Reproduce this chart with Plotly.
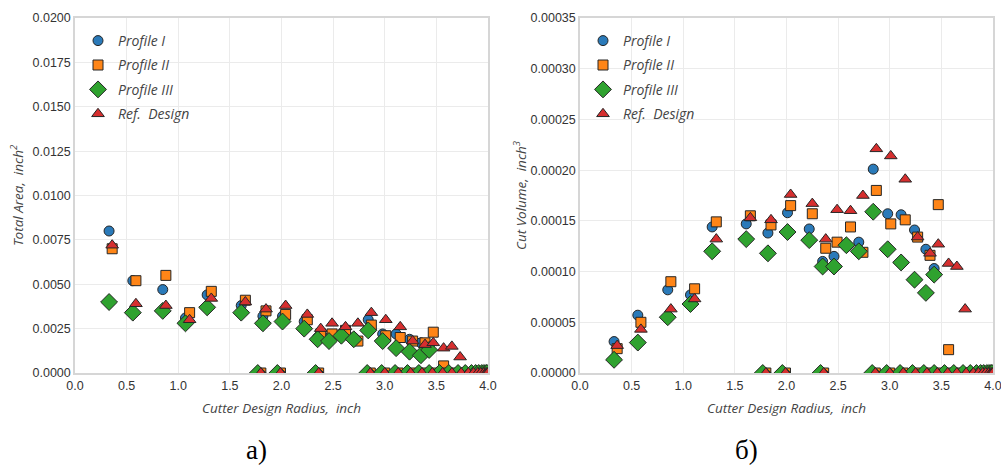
import plotly.graph_objects as go

# ---- data ----
x_p1 = [0.33, 0.56, 0.85, 1.07, 1.28, 1.61, 1.82, 2.01, 2.22, 2.35, 2.46, 2.58, 2.70, 2.84, 2.98, 3.11, 3.24, 3.35, 3.43]
x_p3 = [0.33, 0.56, 0.85, 1.07, 1.28, 1.61, 1.82, 2.01, 2.22, 2.35, 2.46, 2.58, 2.70, 2.84, 2.98, 3.11, 3.24, 3.35, 3.43]
x_p2 = [0.36, 0.59, 0.88, 1.11, 1.32, 1.65, 1.85, 2.04, 2.25, 2.38, 2.49, 2.62, 2.74, 2.87, 3.01, 3.15, 3.27, 3.39, 3.47, 3.57]
x_ref = [0.36, 0.59, 0.88, 1.11, 1.32, 1.65, 1.85, 2.04, 2.25, 2.38, 2.49, 2.62, 2.74, 2.87, 3.01, 3.15, 3.27, 3.39, 3.47, 3.57, 3.65, 3.73]

area_p1 = [0.0080, 0.0052, 0.0047, 0.0031, 0.0044, 0.0038, 0.0032, 0.0032, 0.0029, 0.0020, 0.0020, 0.0022, 0.0020, 0.0030, 0.0022, 0.0022, 0.0019, 0.0017, 0.0015]
area_p2 = [0.0070, 0.0052, 0.0055, 0.0034, 0.0046, 0.0041, 0.0035, 0.0033, 0.0030, 0.0022, 0.0022, 0.0024, 0.0018, 0.0027, 0.0021, 0.0020, 0.0018, 0.0017, 0.0023, 0.0004]
area_p3 = [0.0040, 0.0034, 0.0035, 0.0028, 0.0037, 0.0034, 0.0028, 0.0029, 0.0025, 0.0019, 0.0018, 0.0021, 0.0019, 0.0024, 0.0018, 0.0014, 0.0012, 0.0010, 0.0013]
area_ref = [0.0072, 0.0039, 0.0038, 0.0030, 0.0042, 0.0040, 0.0036, 0.0038, 0.0033, 0.0025, 0.0028, 0.0026, 0.0028, 0.0034, 0.0030, 0.0026, 0.0018, 0.0016, 0.0017, 0.0014, 0.0015, 0.0009]

vol_p1 = [3.1e-5, 5.7e-5, 8.2e-5, 7.7e-5, 1.44e-4, 1.47e-4, 1.38e-4, 1.58e-4, 1.42e-4, 1.10e-4, 1.15e-4, 1.27e-4, 1.29e-4, 2.01e-4, 1.57e-4, 1.56e-4, 1.41e-4, 1.22e-4, 1.03e-4]
vol_p2 = [2.4e-5, 5.0e-5, 9.0e-5, 8.3e-5, 1.49e-4, 1.55e-4, 1.46e-4, 1.65e-4, 1.57e-4, 1.23e-4, 1.29e-4, 1.44e-4, 1.19e-4, 1.80e-4, 1.47e-4, 1.51e-4, 1.34e-4, 1.16e-4, 1.66e-4, 2.3e-5]
vol_p3 = [1.3e-5, 3.0e-5, 5.5e-5, 6.8e-5, 1.20e-4, 1.32e-4, 1.18e-4, 1.39e-4, 1.31e-4, 1.05e-4, 1.05e-4, 1.26e-4, 1.20e-4, 1.59e-4, 1.22e-4, 1.09e-4, 9.2e-5, 7.9e-5, 9.7e-5]
vol_ref = [2.7e-5, 4.3e-5, 6.3e-5, 7.3e-5, 1.32e-4, 1.53e-4, 1.51e-4, 1.76e-4, 1.67e-4, 1.32e-4, 1.61e-4, 1.60e-4, 1.75e-4, 2.21e-4, 2.14e-4, 1.91e-4, 1.34e-4, 1.18e-4, 1.27e-4, 1.08e-4, 1.05e-4, 6.3e-5]

# cutters with zero contribution
zero_x_a = [1.77, 1.96, 2.33, 2.83, 2.97, 3.10, 3.22, 3.33, 3.43, 3.53, 3.62, 3.71, 3.78, 3.84, 3.88, 3.91, 3.94, 3.96, 3.98, 3.99]
zero_x_b = [1.80, 1.99, 2.36, 2.86, 3.00, 3.13, 3.25, 3.36, 3.46, 3.56, 3.65, 3.74, 3.81, 3.86, 3.90, 3.93, 3.96, 3.98, 3.99, 4.00]

x_ticks = [0.0, 0.5, 1.0, 1.5, 2.0, 2.5, 3.0, 3.5, 4.0]
area_ticks = [0.0, 0.0025, 0.005, 0.0075, 0.01, 0.0125, 0.015, 0.0175, 0.02]
vol_ticks = [0.0, 0.00005, 0.0001, 0.00015, 0.0002, 0.00025, 0.0003, 0.00035]

names = ["Profile I", "Profile II", "Profile III", "Ref.  Design"]
colors = ["#2a7ab9", "#ff8517", "#2fa22f", "#d62f2f"]
symbols = ["circle", "square", "diamond", "triangle-up"]
sizes = [10, 10, 13, 11]

series_x = [x_p1 + zero_x_a, x_p2 + zero_x_b, x_p3 + zero_x_a, x_ref + zero_x_b]
series_area = [area_p1, area_p2, area_p3, area_ref]
series_vol = [vol_p1, vol_p2, vol_p3, vol_ref]
zero_counts = [len(zero_x_a), len(zero_x_b), len(zero_x_a), len(zero_x_b)]

fig = go.Figure()
for i in range(4):
    zeros = [0.0] * zero_counts[i]
    mk = dict(symbol=symbols[i], size=sizes[i], color=colors[i],
              line=dict(color="#262626", width=1))
    fig.add_trace(go.Scatter(x=series_x[i], y=series_area[i] + zeros, mode="markers",
                             name=names[i], marker=mk, xaxis="x", yaxis="y",
                             legend="legend", legendgroup="a" + str(i)))
for i in range(4):
    zeros = [0.0] * zero_counts[i]
    mk = dict(symbol=symbols[i], size=sizes[i], color=colors[i],
              line=dict(color="#262626", width=1))
    fig.add_trace(go.Scatter(x=series_x[i], y=series_vol[i] + zeros, mode="markers",
                             name=names[i], marker=mk, xaxis="x2", yaxis="y2",
                             legend="legend2", legendgroup="b" + str(i)))

tick_font = dict(family="Liberation Sans, Arial", size=12.5, color="#333333")
title_font = dict(family="Open Sans, DejaVu Sans", size=13.5, color="#444444")
axis_common = dict(showgrid=True, gridcolor="#ebebeb", gridwidth=1, showline=True,
                   linecolor="#d6d6d6", linewidth=1.5, mirror=True, zeroline=False,
                   ticks="", tickfont=tick_font, automargin=False, ticklabeloverflow="allow")
legend_font = dict(family="Open Sans, DejaVu Sans", size=14, color="#444444", style="italic")

fig.update_layout(
    width=1001, height=465,
    margin=dict(l=0, r=0, t=0, b=0),
    paper_bgcolor="white", plot_bgcolor="white",
    xaxis=dict(domain=[75 / 1001, 488 / 1001], range=[0, 4], tickvals=x_ticks, tickformat=".1f",
               title=dict(text="<i>Cutter Design Radius,  inch</i>", font=title_font, standoff=12),
               anchor="y", **axis_common),
    yaxis=dict(domain=[92 / 465, 447 / 465], range=[0, 0.02], tickvals=area_ticks, tickformat=".4f",
               title=dict(text="<i>Total Area,  inch<sup>2</sup></i>", font=title_font, standoff=6),
               anchor="x", **axis_common),
    xaxis2=dict(domain=[580 / 1001, 993 / 1001], range=[0, 4], tickvals=x_ticks, tickformat=".1f",
                title=dict(text="<i>Cutter Design Radius,  inch</i>", font=title_font, standoff=12),
                anchor="y2", **axis_common),
    yaxis2=dict(domain=[92 / 465, 447 / 465], range=[0, 0.00035], tickvals=vol_ticks, tickformat=".5f",
                title=dict(text="<i>Cut Volume,  inch<sup>3</sup></i>", font=title_font, standoff=1),
                anchor="x2", **axis_common),
    legend=dict(x=78 / 1001, y=1 - 25 / 465, xanchor="left", yanchor="top",
                bgcolor="rgba(0,0,0,0)", tracegroupgap=3.2, font=legend_font),
    legend2=dict(x=583 / 1001, y=1 - 25 / 465, xanchor="left", yanchor="top",
                 bgcolor="rgba(0,0,0,0)", tracegroupgap=3.2, font=legend_font),
    annotations=[
        dict(text="a)", x=244 / 1001, y=1 - 450 / 465, xref="paper", yref="paper",
             yanchor="middle", showarrow=False,
             font=dict(family="Liberation Serif, Times New Roman", size=27, color="black")),
        dict(text="б)", x=760 / 1001, y=1 - 450 / 465, xref="paper", yref="paper",
             yanchor="middle", showarrow=False,
             font=dict(family="Liberation Serif, Times New Roman", size=27, color="black")),
    ],
)

fig.write_html("out.html")
